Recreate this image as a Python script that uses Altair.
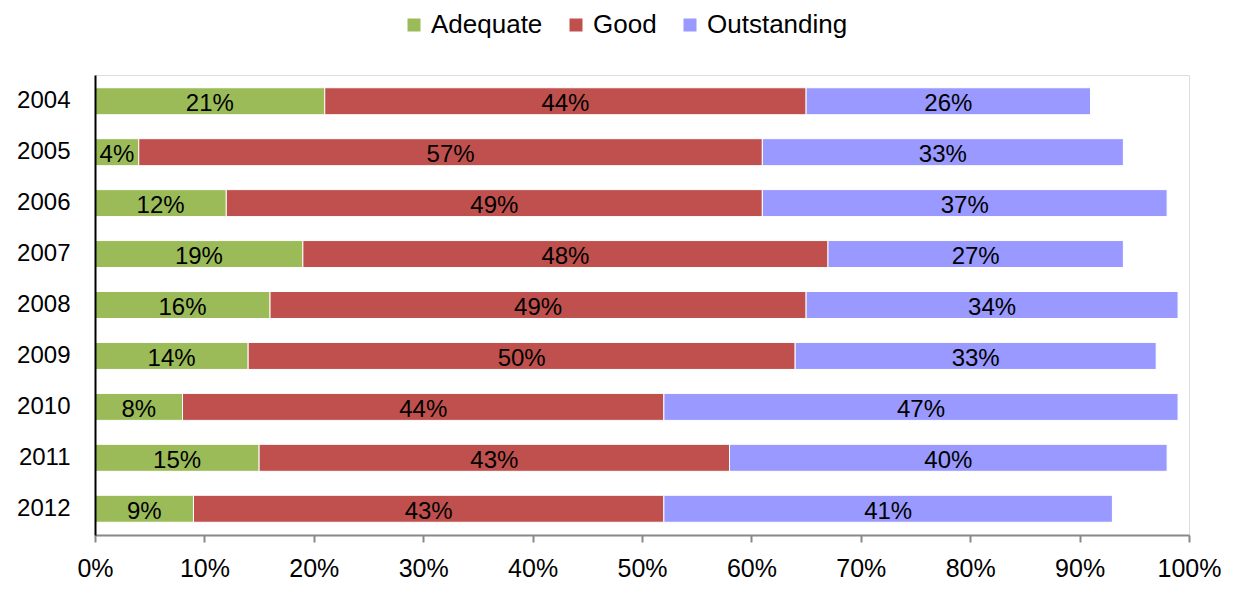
import altair as alt
import pandas as pd

years = ["2004", "2005", "2006", "2007", "2008", "2009", "2010", "2011", "2012"]
adequate = [21, 4, 12, 19, 16, 14, 8, 15, 9]
good = [44, 57, 49, 48, 49, 50, 44, 43, 43]
outstanding = [26, 33, 37, 27, 34, 33, 47, 40, 41]
categories = ["Adequate", "Good", "Outstanding"]
colors = ["#9BBB59", "#C0504D", "#9999FF"]

rows = []
for i, y in enumerate(years):
    for k, (cat, vals) in enumerate(zip(categories, [adequate, good, outstanding])):
        rows.append({"year": y, "cat": cat, "rank": k, "value": vals[i]})
df = pd.DataFrame(rows)

FONT = "Liberation Sans"

base = alt.Chart(df).transform_calculate(
    frac="datum.value / 100"
).transform_stack(
    stack="frac", groupby=["year"], as_=["x0", "x1"], sort=[alt.SortField("rank", "ascending")]
).transform_calculate(
    mid="(datum.x0 + datum.x1) / 2",
    lab="datum.value + '%'"
)

yenc = alt.Y("year:N", sort=years, title=None,
             scale=alt.Scale(paddingInner=0.47, paddingOuter=0.25),
             axis=alt.Axis(labelFont=FONT, labelFontSize=24, labelColor="black",
                           domainColor="black", domainWidth=2, ticks=False,
                           labelPadding=25, zindex=1))

xscale = alt.Scale(domain=[0, 1], nice=False)

bars = base.mark_bar(stroke="white", strokeWidth=1).encode(
    y=yenc,
    x=alt.X("x0:Q", scale=xscale, title=None,
            axis=alt.Axis(format=".0%", values=[i / 10 for i in range(11)],
                          labelFont=FONT, labelFontSize=25, labelColor="black",
                          domainColor="#888888", domainWidth=2, tickColor="#888888",
                          tickSize=7, tickWidth=2, labelPadding=14, grid=False,
                          labelFlush=False, zindex=1)),
    x2="x1:Q",
    color=alt.Color("cat:N", sort=categories,
                    scale=alt.Scale(domain=categories, range=colors),
                    legend=alt.Legend(title=None, orient="none", direction="horizontal",
                                      legendX=306, legendY=-63,
                                      labelFont=FONT, labelFontSize=26, labelColor="black",
                                      symbolType="square", symbolSize=169,
                                      symbolStrokeWidth=0, columnPadding=20,
                                      labelOffset=4)),
)

texts = base.mark_text(font=FONT, fontSize=24, color="black", dy=3).encode(
    y=alt.Y("year:N", sort=years),
    x=alt.X("mid:Q", scale=xscale),
    text="lab:N",
)

chart = alt.layer(bars, texts).properties(
    width=1094, height=460,
    autosize=alt.AutoSizeParams(type="none"),
    padding={"left": 87, "top": 67, "right": 40, "bottom": 50},
).configure_view(
    stroke="#888888", strokeWidth=2
).configure(background="white")

chart.save("out.html", embed_options={"renderer": "svg", "actions": False})
